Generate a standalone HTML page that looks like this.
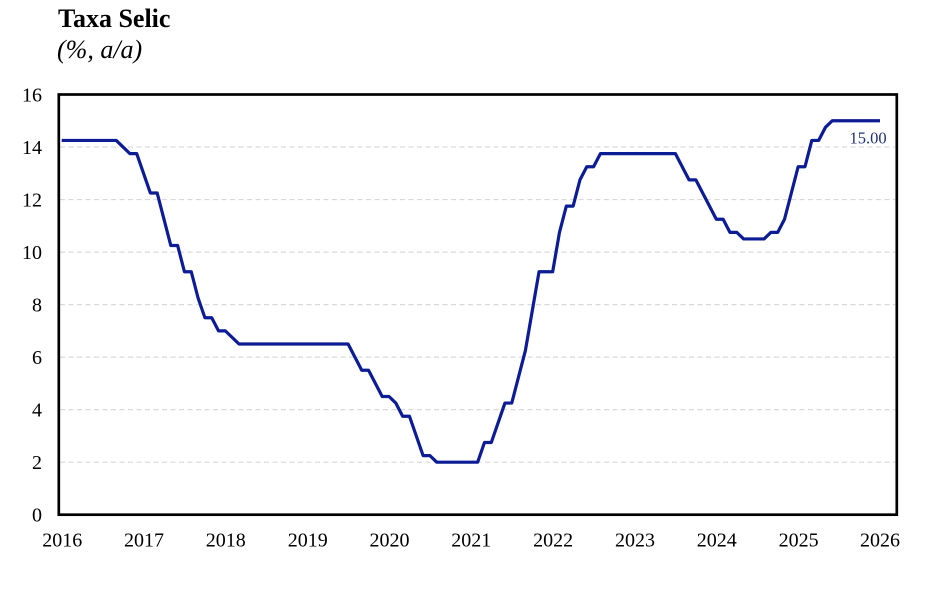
<!DOCTYPE html>
<html>
<head>
<meta charset="utf-8">
<style>
  html, body { margin:0; padding:0; background:#fff; }
  body { width:925px; height:603px; overflow:hidden; }
  svg { display:block; }
  text { font-family: "Liberation Serif", "Times New Roman", serif; }
</style>
</head>
<body>
<svg width="925" height="603" viewBox="0 0 925 603" xmlns="http://www.w3.org/2000/svg">
  <rect x="0" y="0" width="925" height="603" fill="#fff"/>

  <!-- Title -->
  <text x="58" y="27" font-size="26" font-weight="bold" fill="#000">Taxa Selic</text>
  <text x="57" y="58" font-size="26" font-style="italic" fill="#000">(%, a/a)</text>

  <!-- gridlines -->
  <g stroke="#d9d9d9" stroke-width="1.2" stroke-dasharray="5,3.5" fill="none">
    <line x1="60" y1="462.2" x2="895" y2="462.2"/>
    <line x1="60" y1="409.65" x2="895" y2="409.65"/>
    <line x1="60" y1="357.1" x2="895" y2="357.1"/>
    <line x1="60" y1="304.6" x2="895" y2="304.6"/>
    <line x1="60" y1="252.1" x2="895" y2="252.1"/>
    <line x1="60" y1="199.55" x2="895" y2="199.55"/>
    <line x1="60" y1="147.0" x2="895" y2="147.0"/>
  </g>

  <!-- series -->
  <g transform="translate(61.7,514.7) scale(6.819,-26.2625)">
    <polyline fill="none" stroke="#0c1c94" stroke-width="3.2" vector-effect="non-scaling-stroke" stroke-linejoin="round" stroke-linecap="butt"
      points="0,14.25 8,14.25 10,13.75 11,13.75 13,12.25 14,12.25 16,10.25 17,10.25 18,9.25 19,9.25 20,8.25 21,7.5 22,7.5 23,7 24,7 26,6.5 42,6.5 44,5.5 45,5.5 47,4.5 48,4.5 49,4.25 50,3.75 51,3.75 53,2.25 54,2.25 55,2 61,2 62,2.75 63,2.75 65,4.25 66,4.25 68,6.25 70,9.25 72,9.25 73,10.75 74,11.75 75,11.75 76,12.75 77,13.25 78,13.25 79,13.75 90,13.75 92,12.75 93,12.75 96,11.25 97,11.25 98,10.75 99,10.75 100,10.5 103,10.5 104,10.75 105,10.75 106,11.25 108,13.25 109,13.25 110,14.25 111,14.25 112,14.75 113,15 120,15"/>
  </g>

  <!-- plot box -->
  <rect x="58.8" y="94.5" width="838" height="420.2" fill="none" stroke="#000" stroke-width="2.7"/>

  <!-- value label -->
  <text x="849.5" y="143.3" font-size="16.5" fill="#1f2f78">15.00</text>

  <!-- y axis labels -->
  <g font-size="20" fill="#000" text-anchor="end">
    <text x="42" y="521.5">0</text>
    <text x="42" y="469">2</text>
    <text x="42" y="416.5">4</text>
    <text x="42" y="364">6</text>
    <text x="42" y="311.4">8</text>
    <text x="42" y="258.9">10</text>
    <text x="42" y="206.4">12</text>
    <text x="42" y="153.8">14</text>
    <text x="42" y="101.3">16</text>
  </g>

  <!-- x axis labels -->
  <g font-size="20" fill="#000" text-anchor="middle">
    <text x="62.2" y="546.7">2016</text>
    <text x="144" y="546.7">2017</text>
    <text x="225.8" y="546.7">2018</text>
    <text x="307.7" y="546.7">2019</text>
    <text x="389.5" y="546.7">2020</text>
    <text x="471.3" y="546.7">2021</text>
    <text x="553.1" y="546.7">2022</text>
    <text x="635" y="546.7">2023</text>
    <text x="716.8" y="546.7">2024</text>
    <text x="798.6" y="546.7">2025</text>
    <text x="880" y="546.7">2026</text>
  </g>
</svg>
</body>
</html>
